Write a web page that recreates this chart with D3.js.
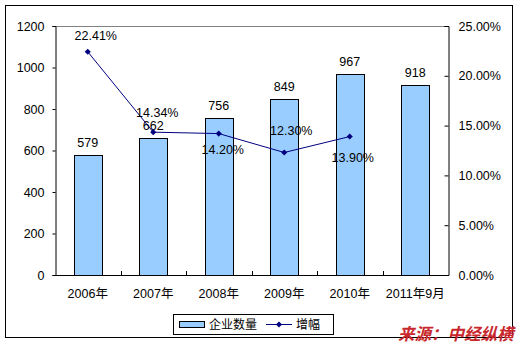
<!DOCTYPE html>
<html>
<head>
<meta charset="utf-8">
<script src="https://cdn.jsdelivr.net/npm/d3@7"></script>
<style>
  html, body { margin: 0; padding: 0; background: #fff; }
  svg { display: block; }
  text { font-family: "Liberation Sans", Arial, "Noto Sans CJK SC", sans-serif; }
</style>
</head>
<body>
<svg id="chart" width="521" height="345"></svg>
<script>
// Number of enterprises per year and year-on-year growth rate
const categories = ["2006年", "2007年", "2008年", "2009年", "2010年", "2011年9月"];
const enterpriseCounts = [579, 662, 756, 849, 967, 918];
const growthRates = [22.41, 14.34, 14.20, 12.30, 13.90]; // percent, 2006–2010
const leftTicks = [0, 200, 400, 600, 800, 1000, 1200];
const rightTicks = [0, 5, 10, 15, 20, 25];
const legendLabels = ["企业数量", "增幅"];
const sourceText = "来源：中经纵横";

// Label placement for the growth labels (pixel offsets from each marker)
const growthLabelPlacement = [
  { dx: 8, dy: -12 },
  { dx: 4, dy: -15 },
  { dx: 4, dy: 20 },
  { dx: 7, dy: -17 },
  { dx: 3, dy: 25 }
];

const svg = d3.select("#chart");
const plot = { left: 55, right: 448, top: 26, bottom: 275 };

const x = d3.scaleBand().domain(categories).range([plot.left, plot.right]);
const yLeft = d3.scaleLinear().domain([0, 1200]).range([plot.bottom, plot.top]);
const yRight = d3.scaleLinear().domain([0, 25]).range([plot.bottom, plot.top]);

// outer frame
svg.append("rect")
  .attr("x", 5.5).attr("y", 5.5).attr("width", 507).attr("height", 332)
  .attr("fill", "#fff").attr("stroke", "#000").attr("stroke-width", 1);

// top edge of plot area
svg.append("line")
  .attr("x1", plot.left).attr("x2", plot.right)
  .attr("y1", plot.top + 0.5).attr("y2", plot.top + 0.5)
  .attr("stroke", "#808080");

// bars
const barW = x.bandwidth() * 0.42;
svg.append("g").selectAll("rect")
  .data(enterpriseCounts)
  .join("rect")
  .attr("x", (d, i) => Math.round(x(categories[i]) + x.bandwidth() / 2 - barW / 2) + 0.5)
  .attr("y", d => Math.round(yLeft(d)) + 0.5)
  .attr("width", Math.round(barW))
  .attr("height", d => plot.bottom - Math.round(yLeft(d)))
  .attr("fill", "#99ccff")
  .attr("stroke", "#000")
  .attr("stroke-width", 1);

// bar value labels
svg.append("g").selectAll("text")
  .data(enterpriseCounts)
  .join("text")
  .attr("x", (d, i) => x(categories[i]) + x.bandwidth() / 2)
  .attr("y", d => yLeft(d) - 8)
  .attr("text-anchor", "middle")
  .attr("font-size", 12.5)
  .attr("fill", "#000")
  .text(d => d);

// left axis
const leftAxis = d3.axisLeft(yLeft).tickValues(leftTicks).tickSize(3).tickPadding(8).tickFormat(d3.format("d"));
const gL = svg.append("g").attr("transform", `translate(${plot.left + 0.5},0)`).call(leftAxis);
gL.select(".domain").attr("stroke", "#000");
gL.selectAll(".tick line").attr("stroke", "#000");
gL.selectAll(".tick text").attr("font-size", 12.5).attr("fill", "#000")
  .attr("font-family", "'Liberation Sans', Arial, sans-serif");

// right axis (ticks pointing inward)
const rightAxis = d3.axisRight(yRight).tickValues(rightTicks).tickSize(-4).tickPadding(10)
  .tickFormat(d => d3.format(".2f")(d) + "%");
const gR = svg.append("g").attr("transform", `translate(${plot.right + 0.5},0)`).call(rightAxis);
gR.select(".domain").attr("stroke", "#000");
gR.selectAll(".tick line").attr("stroke", "#000");
gR.selectAll(".tick text").attr("font-size", 12.5).attr("fill", "#000")
  .attr("font-family", "'Liberation Sans', Arial, sans-serif");

// category axis
svg.append("line")
  .attr("x1", plot.left).attr("x2", plot.right + 1)
  .attr("y1", plot.bottom + 0.5).attr("y2", plot.bottom + 0.5)
  .attr("stroke", "#000");
const boundaries = categories.slice(1).map(c => x(c));
svg.append("g").selectAll("line")
  .data(boundaries)
  .join("line")
  .attr("x1", d => Math.round(d) + 0.5).attr("x2", d => Math.round(d) + 0.5)
  .attr("y1", plot.bottom).attr("y2", plot.bottom - 4)
  .attr("stroke", "#000");
svg.append("g").selectAll("text")
  .data(categories)
  .join("text")
  .attr("x", d => x(d) + x.bandwidth() / 2)
  .attr("y", plot.bottom + 23)
  .attr("text-anchor", "middle")
  .attr("font-size", 12.5)
  .attr("fill", "#000")
  .text(d => d);

// growth line
const pts = growthRates.map((v, i) => [x(categories[i]) + x.bandwidth() / 2, yRight(v)]);
svg.append("path")
  .attr("d", d3.line()(pts))
  .attr("fill", "none")
  .attr("stroke", "#000080")
  .attr("stroke-width", 1);
const diamond = d3.symbol().type(d3.symbolDiamond2).size(24);
svg.append("g").selectAll("path")
  .data(pts)
  .join("path")
  .attr("transform", d => `translate(${d[0]},${d[1]})`)
  .attr("d", diamond)
  .attr("fill", "#000080");
svg.append("g").selectAll("text")
  .data(growthRates)
  .join("text")
  .attr("x", (d, i) => pts[i][0] + growthLabelPlacement[i].dx)
  .attr("y", (d, i) => pts[i][1] + growthLabelPlacement[i].dy)
  .attr("text-anchor", "middle")
  .attr("font-size", 12.5)
  .attr("fill", "#000")
  .text(d => d3.format(".2f")(d) + "%");

// legend
const lg = svg.append("g");
lg.append("rect")
  .attr("x", 173.5).attr("y", 314.5).attr("width", 160).attr("height", 20)
  .attr("fill", "#fff").attr("stroke", "#000");
lg.append("rect")
  .attr("x", 179.5).attr("y", 321.5).attr("width", 25).attr("height", 6)
  .attr("fill", "#99ccff").attr("stroke", "#000");
lg.append("text")
  .attr("x", 209).attr("y", 329)
  .attr("font-size", 12).attr("fill", "#000")
  .attr("font-family", "'Noto Sans CJK SC', sans-serif")
  .text(legendLabels[0]);
lg.append("line")
  .attr("x1", 266).attr("x2", 292).attr("y1", 324.5).attr("y2", 324.5)
  .attr("stroke", "#000080");
lg.append("path")
  .attr("transform", "translate(279,324.5)")
  .attr("d", diamond)
  .attr("fill", "#000080");
lg.append("text")
  .attr("x", 296).attr("y", 329)
  .attr("font-size", 12).attr("fill", "#000")
  .attr("font-family", "'Noto Sans CJK SC', sans-serif")
  .text(legendLabels[1]);

// source note
svg.append("text")
  .attr("x", 398).attr("y", 340)
  .attr("font-size", 16.5)
  .attr("font-weight", "bold")
  .attr("font-style", "italic")
  .attr("fill", "#c8282d")
  .attr("font-family", "'Noto Sans CJK SC', sans-serif")
  .text(sourceText);
</script>
</body>
</html>
